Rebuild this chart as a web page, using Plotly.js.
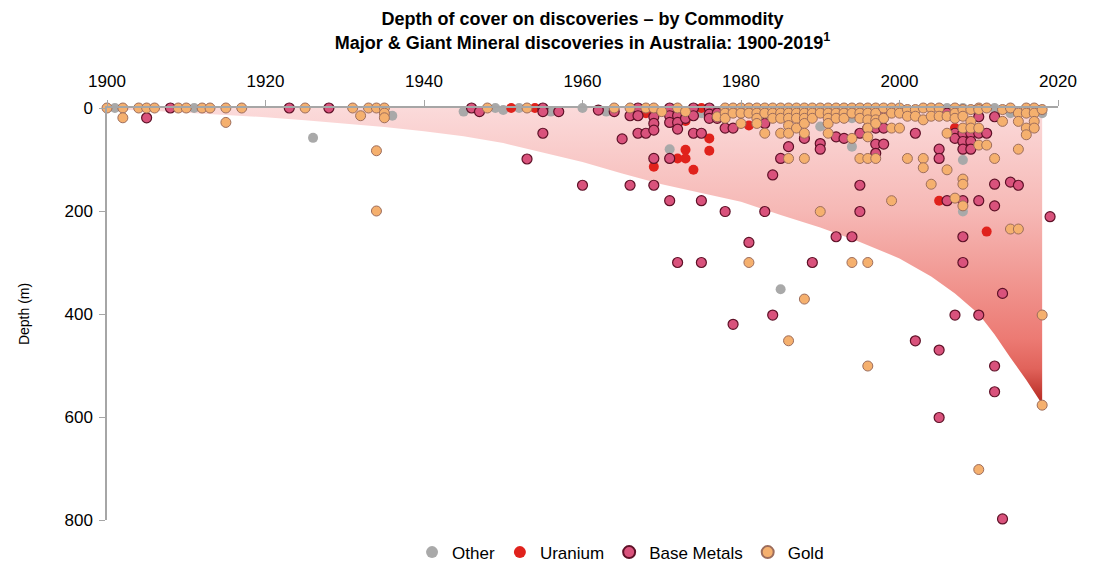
<!DOCTYPE html>
<html>
<head>
<meta charset="utf-8">
<script src="https://cdn.plot.ly/plotly-3.0.1.min.js"></script>
<style>
  html, body { margin: 0; padding: 0; background: #ffffff; }
  #chart { width: 1095px; height: 565px; }
</style>
</head>
<body>
<div id="chart"></div>
<script>
// Depth-of-cover envelope (year, depth in metres)
const coverYears = [1900, 1905, 1910, 1915, 1920, 1925, 1930, 1935, 1940, 1945, 1950, 1955, 1960, 1965,
                    1970, 1975, 1980, 1985, 1990, 1995, 2000, 2004, 2007, 2010, 2012, 2014, 2016, 2018];
const coverDepth = [3, 5, 9, 13, 18, 24, 30, 37, 45, 55, 68, 86, 105, 127,
                    148, 165, 182, 208, 232, 260, 292, 327, 360, 400, 440, 485, 528, 575];

// Discoveries by commodity: [year, depth of cover (m)]
const otherFinds = [
  [1901,0],[1911,0],[1926,58],[1936,15],[1945,7],[1949,0],[1950,4],[1952,0],[1956,7],[1960,0],
  [1963,7],[1971,80],[1975,10],[1985,352],[1990,36],[1994,20],[1994,75],[2006,0],[2008,0],
  [2008,101],[2008,201],[2012,0],[2014,10],[2018,10]
];

const uraniumFinds = [
  [1951,0],[1954,0],[1968,10],[1969,114],[1972,98],[1973,25],[1973,81],[1973,98],[1974,120],
  [1975,0],[1976,59],[1976,83],[1981,34],[2005,180],[2007,39],[2008,59],[2011,240]
];

const baseMetalFinds = [
  [1905,19],[1908,0],[1923,0],[1928,0],[1946,0],[1947,7],[1953,99],[1955,0],[1955,7],[1955,49],
  [1957,7],[1960,150],[1962,4],[1964,7],[1965,60],[1966,15],[1966,150],[1967,0],[1967,15],[1967,49],
  [1968,49],[1969,17],[1969,30],[1969,43],[1969,98],[1969,150],[1971,0],[1971,15],[1971,28],[1971,98],
  [1971,180],[1972,15],[1972,28],[1972,41],[1972,300],[1973,7],[1973,20],[1974,0],[1974,15],[1974,49],
  [1975,49],[1975,180],[1975,300],[1976,0],[1976,12],[1976,20],[1977,10],[1977,20],[1978,39],[1978,201],
  [1979,39],[1979,420],[1981,261],[1983,30],[1983,201],[1984,130],[1984,402],[1985,98],[1986,75],[1988,59],
  [1989,300],[1990,69],[1990,80],[1992,56],[1992,250],[1993,59],[1994,250],[1995,49],[1995,150],[1995,201],
  [1996,39],[1997,39],[1997,70],[1997,88],[1998,10],[1998,39],[1998,70],[2002,49],[2002,452],[2005,80],
  [2005,98],[2005,470],[2005,601],[2006,10],[2006,180],[2007,49],[2007,59],[2007,402],[2008,49],[2008,65],
  [2008,80],[2008,180],[2008,250],[2008,300],[2009,49],[2009,65],[2009,80],[2010,17],[2010,49],[2010,180],
  [2010,402],[2011,49],[2012,17],[2012,148],[2012,190],[2012,501],[2012,551],[2013,360],[2013,798],[2014,144],
  [2015,150],[2018,801],[2019,211]
];

const goldFinds = [
  [1900,0],[1902,0],[1902,19],[1904,0],[1905,0],[1906,0],[1909,0],[1910,0],[1912,0],[1913,0],
  [1915,0],[1915,28],[1917,0],[1925,0],[1931,0],[1932,15],[1933,0],[1934,0],[1934,83],[1934,200],
  [1935,0],[1935,10],[1935,19],[1948,0],[1953,0],[1964,0],[1966,0],[1968,0],[1969,0],[1970,7],
  [1972,0],[1973,7],[1977,17],[1978,0],[1978,10],[1978,20],[1979,0],[1979,10],[1980,0],[1980,10],
  [1980,30],[1981,0],[1981,10],[1981,300],[1982,0],[1982,10],[1982,20],[1982,30],[1983,0],[1983,10],
  [1983,49],[1984,0],[1984,10],[1984,20],[1985,0],[1985,10],[1985,20],[1985,49],[1986,0],[1986,10],
  [1986,20],[1986,34],[1986,49],[1986,98],[1986,452],[1987,0],[1987,10],[1987,20],[1987,39],[1988,0],
  [1988,10],[1988,20],[1988,30],[1988,49],[1988,98],[1988,371],[1989,0],[1989,10],[1989,20],[1990,0],
  [1990,10],[1990,201],[1991,0],[1991,10],[1991,20],[1991,30],[1991,49],[1992,0],[1992,10],[1992,20],
  [1993,0],[1993,10],[1993,20],[1994,0],[1994,10],[1994,59],[1994,300],[1995,0],[1995,10],[1995,20],
  [1995,98],[1996,0],[1996,10],[1996,23],[1996,39],[1996,56],[1996,98],[1996,300],[1996,501],[1997,0],
  [1997,10],[1997,23],[1997,30],[1997,98],[1998,0],[1998,20],[1999,0],[1999,10],[1999,39],[1999,180],
  [2000,0],[2000,10],[2000,39],[2001,3],[2001,16],[2001,98],[2002,3],[2002,16],[2003,0],[2003,23],
  [2003,98],[2003,116],[2004,0],[2004,16],[2004,148],[2005,0],[2005,16],[2006,16],[2006,49],[2006,120],
  [2007,0],[2007,10],[2007,20],[2007,175],[2008,3],[2008,16],[2008,39],[2008,138],[2008,148],[2008,190],
  [2009,3],[2009,26],[2009,39],[2010,0],[2010,3],[2010,39],[2010,72],[2010,702],[2011,0],[2011,72],
  [2012,98],[2013,3],[2013,26],[2014,0],[2014,235],[2015,10],[2015,26],[2015,80],[2015,235],[2016,0],
  [2016,10],[2016,39],[2016,52],[2017,0],[2017,10],[2017,26],[2017,39],[2018,3],[2018,402],[2018,577]
];

const xTicks = [1900, 1920, 1940, 1960, 1980, 2000, 2020];
const yTicks = [0, 200, 400, 600, 800];

const FONT = 'Arial, "Liberation Sans", sans-serif';
const AXIS_GREY = '#a6a6a6';

function markerTrace(name, finds, marker) {
  return {
    type: 'scatter',
    mode: 'markers',
    name: name,
    x: finds.map(p => p[0]),
    y: finds.map(p => p[1]),
    cliponaxis: false,
    marker: marker,
    hovertemplate: name + '<br>%{x}: %{y} m<extra></extra>'
  };
}

const envelope = {
  type: 'scatter',
  mode: 'lines',
  x: coverYears,
  y: coverDepth,
  line: { width: 0, color: 'rgba(0,0,0,0)' },
  fill: 'tozeroy',
  fillgradient: {
    type: 'vertical',
    start: 0,
    stop: Math.max(...coverDepth),
    colorscale: [
      [0.0, '#fbdada'],
      [0.35, '#f6b8b5'],
      [0.62, '#f0918b'],
      [0.78, '#ec7a73'],
      [0.88, '#e1635b'],
      [1.0, '#b3261e']
    ]
  },
  showlegend: false,
  hoverinfo: 'skip'
};

const traces = [
  envelope,
  markerTrace('Other', otherFinds, { size: 10, color: '#a9a9a9', line: { width: 0 } }),
  markerTrace('Uranium', uraniumFinds, { size: 10, color: '#e0221c', line: { width: 0 } }),
  markerTrace('Base Metals', baseMetalFinds, { size: 10, color: '#d9527c', line: { width: 1.2, color: '#5e1127' } }),
  markerTrace('Gold', goldFinds, { size: 10, color: '#f5b06e', line: { width: 1, color: '#9d6d5c' } })
];

const layout = {
  width: 1095,
  height: 565,
  margin: { l: 107, r: 37, t: 108, b: 45 },
  paper_bgcolor: '#ffffff',
  plot_bgcolor: '#ffffff',
  font: { family: FONT, color: '#000000', size: 17 },
  title: {
    text: '<b>Depth of cover on discoveries – by Commodity<br>Major &amp; Giant Mineral discoveries in Australia: 1900-2019<sup>1</sup></b>',
    font: { family: FONT, size: 18, color: '#000000', lineposition: 'none' },
    x: 0.5,
    xref: 'paper',
    xanchor: 'center',
    y: 0.955,
    yref: 'container',
    yanchor: 'top'
  },
  xaxis: {
    side: 'top',
    range: [1900, 2020],
    tickvals: xTicks,
    ticktext: xTicks.map(String),
    ticks: 'outside',
    ticklen: 6,
    tickcolor: AXIS_GREY,
    ticklabelstandoff: 6,
    showline: true,
    linecolor: AXIS_GREY,
    linewidth: 1.5,
    showgrid: false,
    zeroline: false,
    tickfont: { size: 17, family: FONT, color: '#000000' }
  },
  yaxis: {
    range: [800, 0],
    tickvals: yTicks,
    ticktext: yTicks.map(String),
    ticks: 'outside',
    ticklen: 6,
    tickcolor: AXIS_GREY,
    ticklabelstandoff: 3,
    showline: true,
    linecolor: AXIS_GREY,
    linewidth: 1.5,
    showgrid: false,
    zeroline: false,
    tickfont: { size: 17, family: FONT, color: '#000000' },
    title: { text: 'Depth (m)', font: { size: 14, family: FONT, color: '#000000' }, standoff: 32 }
  },
  showlegend: true,
  legend: {
    orientation: 'h',
    xref: 'paper',
    x: 0.54,
    xanchor: 'center',
    yref: 'container',
    y: 0.022,
    yanchor: 'middle',
    font: { size: 17, family: FONT, color: '#000000' },
    itemsizing: 'constant',
    itemwidth: 30,
    bgcolor: 'rgba(0,0,0,0)'
  }
};

Plotly.newPlot('chart', traces, layout, { displayModeBar: false, responsive: false });
</script>
</body>
</html>
